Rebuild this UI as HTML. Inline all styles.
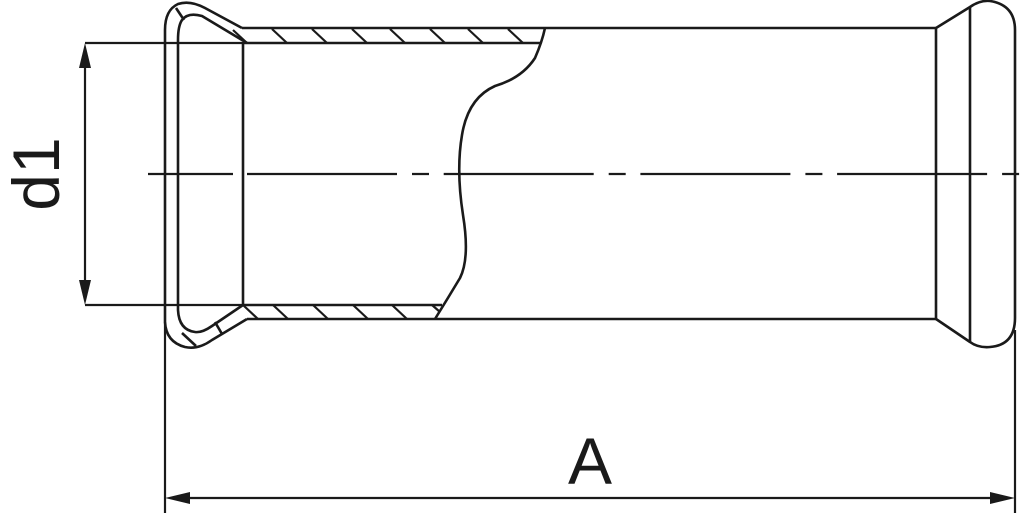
<!DOCTYPE html>
<html><head><style>html,body{margin:0;padding:0;background:#fff}svg{display:block}</style></head>
<body>
<svg width="1024" height="517" viewBox="0 0 1024 517" xmlns="http://www.w3.org/2000/svg">
<g fill="none" stroke="#1a1a1a" stroke-width="2.6" stroke-linejoin="round">
<path d="M242,28 L205,8 Q190,0 178,4 Q165,10 165,30 L165,322 Q166,342 185,347 Q198,350 212,340 L247,319"/>
<path d="M247,43 L202,16 Q188,12 182,20 Q178,26 178,40 L178,310 Q179,330 195,332 Q202,333 212,326 L243,305"/>
<line x1="176" y1="8" x2="184" y2="20"/>
<line x1="182" y1="333" x2="196" y2="346"/>
<line x1="215" y1="322" x2="222" y2="334"/>
<line x1="243" y1="43" x2="243" y2="305"/>
<line x1="242" y1="28" x2="936" y2="28"/>
<line x1="247" y1="319" x2="936" y2="319"/>
<line x1="243" y1="43" x2="540" y2="43"/>
<line x1="243" y1="305" x2="442" y2="305"/>
<path d="M545,28 Q542,42 535,58 Q522,78 495,86 Q468,98 462,135 Q456,170 463,215 Q470,258 460,278 Q448,298 435,319"/>
<g stroke-width="2.2">
<line x1="272" y1="29" x2="287" y2="43"/><line x1="312" y1="29" x2="327" y2="43"/><line x1="352" y1="29" x2="367" y2="43"/><line x1="390" y1="29" x2="405" y2="43"/><line x1="430" y1="29" x2="445" y2="43"/><line x1="468" y1="29" x2="483" y2="43"/><line x1="508" y1="29" x2="523" y2="43"/>
<line x1="273" y1="305" x2="288" y2="319"/><line x1="313" y1="305" x2="328" y2="319"/><line x1="353" y1="305" x2="368" y2="319"/><line x1="392" y1="305" x2="407" y2="319"/><line x1="432" y1="305" x2="440" y2="312"/>
<line x1="247" y1="43" x2="233" y2="30"/>
<line x1="243" y1="305" x2="258" y2="319"/>
</g>
<line x1="936" y1="28" x2="936" y2="319"/>
<path d="M936,28 L970,7 Q980,0 990,1 Q1015,5 1015,30 L1015,318 Q1015,345 990,347 Q978,348 970,342 L936,319"/>
<line x1="970" y1="7" x2="970" y2="342"/>
<line x1="148" y1="174" x2="233" y2="174" stroke-width="2.2"/>
<line x1="247" y1="174" x2="1020" y2="174" stroke-width="2.2" stroke-dasharray="150 15 17 14.7"/>
<line x1="85" y1="43" x2="243" y2="43" stroke-width="2.2"/>
<line x1="85" y1="305" x2="243" y2="305" stroke-width="2.2"/>
<line x1="85" y1="60" x2="85" y2="290" stroke-width="2.2"/>
<line x1="165" y1="322" x2="165" y2="513" stroke-width="2.2"/>
<line x1="1015" y1="330" x2="1015" y2="513" stroke-width="2.2"/>
<line x1="180" y1="498" x2="1000" y2="498" stroke-width="2.2"/>
</g>
<g fill="#1a1a1a">
<polygon points="85,43 79,68 91,68"/>
<polygon points="85,305 79,280 91,280"/>
<polygon points="165,498 190,492 190,504"/>
<polygon points="1015,498 990,492 990,504"/>
</g>
<text x="590" y="484" font-family="Liberation Sans, sans-serif" font-size="66" text-anchor="middle" fill="#1a1a1a">A</text>
<text transform="translate(59,174) rotate(-90)" font-family="Liberation Sans, sans-serif" font-size="66" text-anchor="middle" fill="#1a1a1a">d1</text>
</svg>
</body></html>
